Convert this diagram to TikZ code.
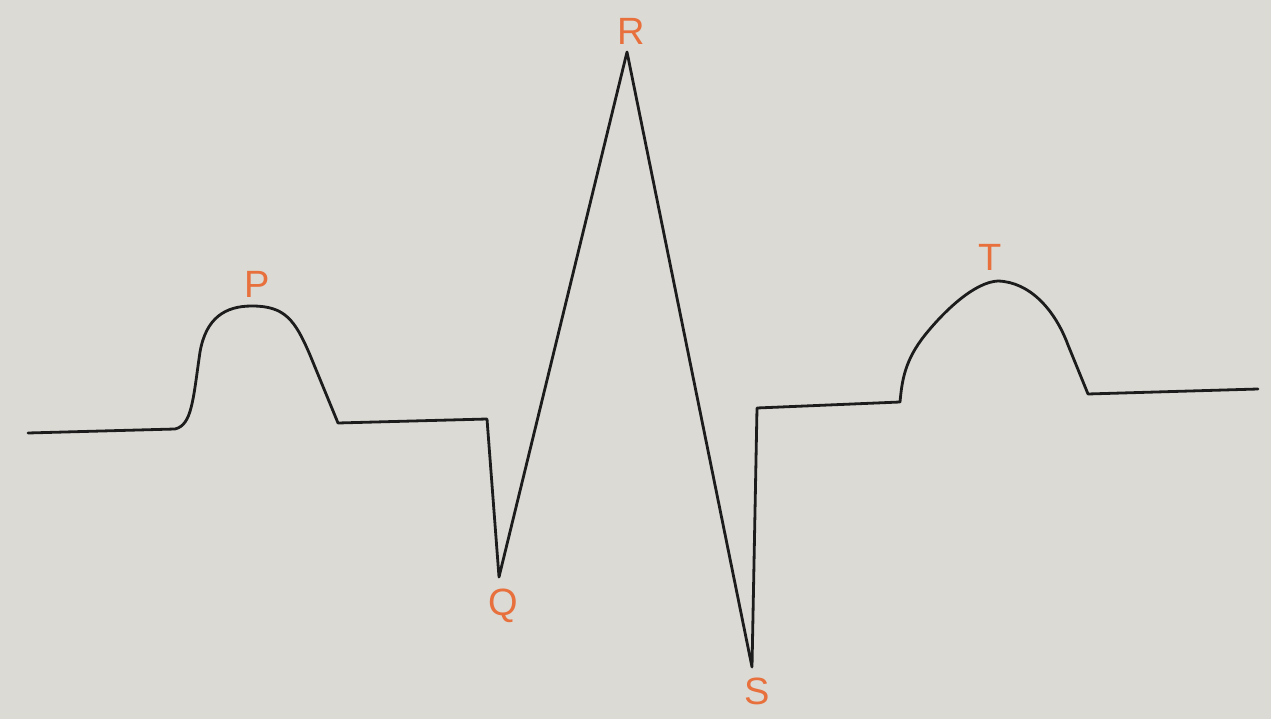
\documentclass[tikz,border=0pt]{standalone}
\usepackage{fontspec}
\setmainfont{Liberation Sans}
\definecolor{paper}{RGB}{219,218,213}
\definecolor{ink}{RGB}{28,28,28}
\definecolor{pen}{RGB}{232,112,60}
\begin{document}
\begin{tikzpicture}[x=1pt,y=-1pt,
  trace/.style={draw=ink,line width=2.8pt,line join=round,line cap=round},
  wavelabel/.style={text=pen,font=\fontsize{38}{38}\selectfont,inner sep=0pt}]
\fill[paper] (0,0) rectangle (1271,719);
\useasboundingbox (0,0) rectangle (1271,719);
% key points
\coordinate (start) at (28,433);
\coordinate (pstart) at (175,429);
\coordinate (ppeak) at (252,306);
\coordinate (pend) at (338,423);
\coordinate (qtop) at (487,419);
\coordinate (q) at (499,577);
\coordinate (r) at (627,52);
\coordinate (s) at (752,667);
\coordinate (stop) at (757,408);
\coordinate (tstart) at (900,402);
\coordinate (tpeak) at (998,281);
\coordinate (tend) at (1088,394);
\coordinate (finish) at (1258,389);
% trace
\draw[trace] (start) -- (pstart)
  .. controls (192,425) and (193,400) .. (200,352)
  .. controls (206,318) and (225,306) .. (ppeak)
  .. controls (285,306) and (295,320) .. (310,355)
  -- (pend)
  -- (qtop) -- (q) -- (r) -- (s) -- (stop) -- (tstart)
  .. controls (902,380) and (905,360) .. (925,335)
  .. controls (945,310) and (975,282) .. (tpeak)
  .. controls (1030,282) and (1055,310) .. (1068,345)
  -- (tend)
  -- (finish);
% labels
\node[wavelabel] (lp) at (257,284) {P};
\node[wavelabel] (lq) at (503,606) {Q};
\node[wavelabel] (lr) at (631,31) {R};
\node[wavelabel] (ls) at (757,691) {S};
\node[wavelabel] (lt) at (990,257) {T};
\end{tikzpicture}
\end{document}
